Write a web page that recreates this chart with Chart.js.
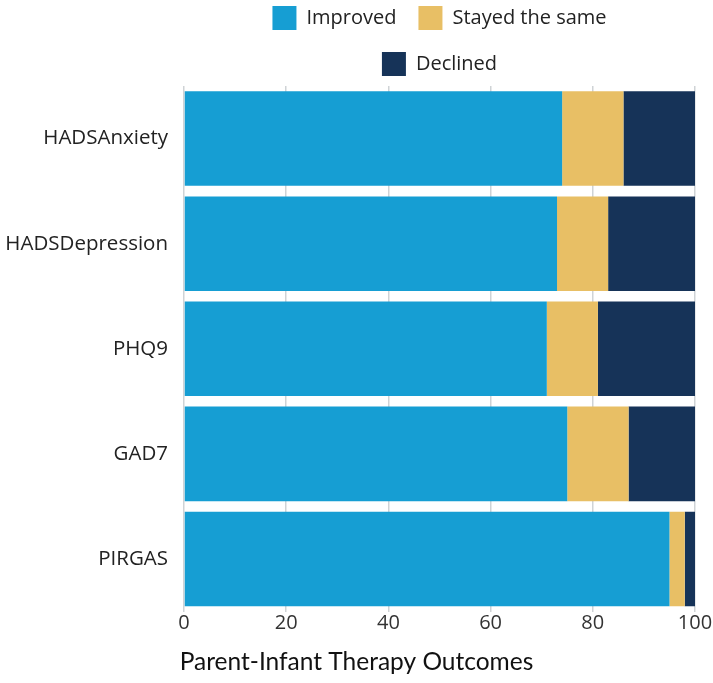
<!DOCTYPE html>
<html lang="en">
<head>
  <meta charset="UTF-8" />
  <title>Parent-Infant Therapy Outcomes</title>
  <script src="https://cdn.jsdelivr.net/npm/chart.js"></script>
  <style>
    body {
      margin: 0;
      background: #ffffff;
    }
    #outcomeChart {
      display: block;
    }
  </style>
</head>
<body>
  <canvas id="outcomeChart" width="713" height="683"></canvas>
  <script>
    // values (percent of clients)
    const categories = ['HADSAnxiety', 'HADSDepression', 'PHQ9', 'GAD7', 'PIRGAS'];
    const improved = [74, 73, 71, 75, 95];
    const stayedSame = [12, 10, 10, 12, 3];
    const declined = [14, 17, 19, 13, 2];
    const seriesNames = ['Improved', 'Stayed the same', 'Declined'];
    const xMax = 100;
    const xStep = 20;

    const colors = ['#169ed3', '#e8bf65', '#163358'];

    // keep the legend to two rows like the original, centred over the plot
    const legendRows = {
      id: 'legendRows',
      afterInit(chart) {
        const lg = chart.legend;
        if (!lg) return;
        const fit = lg.fit;
        lg.fit = function () {
          const full = this.maxWidth;
          this.maxWidth = Math.min(full, 400);
          fit.call(this);
          this.maxWidth = full;
        };
      }
    };

    const ctx = document.getElementById('outcomeChart').getContext('2d');
    new Chart(ctx, {
      type: 'bar',
      data: {
        labels: categories,
        datasets: [
          { label: seriesNames[0], data: improved, backgroundColor: colors[0] },
          { label: seriesNames[1], data: stayedSame, backgroundColor: colors[1] },
          { label: seriesNames[2], data: declined, backgroundColor: colors[2] }
        ]
      },
      options: {
        indexAxis: 'y',
        responsive: false,
        animation: false,
        barPercentage: 1,
        categoryPercentage: 0.9,
        layout: {
          padding: { top: -16, left: 5, right: 5, bottom: 0 }
        },
        plugins: {
          legend: {
            position: 'top',
            fullSize: false,
            labels: {
              boxWidth: 24,
              boxHeight: 24,
              padding: 22,
              color: '#222222',
              font: { family: 'Open Sans', size: 20 }
            }
          },
          title: {
            display: true,
            position: 'bottom',
            text: 'Parent-Infant Therapy Outcomes',
            color: '#111111',
            font: { family: 'Lato', size: 24.5, weight: 'normal' },
            padding: { top: 12, bottom: 6 }
          },
          tooltip: { enabled: false }
        },
        scales: {
          x: {
            stacked: true,
            min: 0,
            max: xMax,
            border: { display: false },
            grid: {
              color: '#cfd3d6',
              lineWidth: 1.5,
              drawTicks: false
            },
            ticks: {
              stepSize: xStep,
              padding: 0,
              color: '#333333',
              font: { family: 'Open Sans', size: 20 }
            },
            // fixed right margin; the "100" label runs into it
            afterFit(scale) {
              scale.paddingRight = 18;
            }
          },
          y: {
            stacked: true,
            border: { display: false },
            grid: { display: false, drawTicks: false },
            ticks: {
              padding: 16,
              color: '#222222',
              font: { family: 'Open Sans', size: 20.5 }
            },
            afterFit(scale) {
              scale.width = 179;
            }
          }
        }
      },
      plugins: [legendRows]
    });
  </script>
</body>
</html>
